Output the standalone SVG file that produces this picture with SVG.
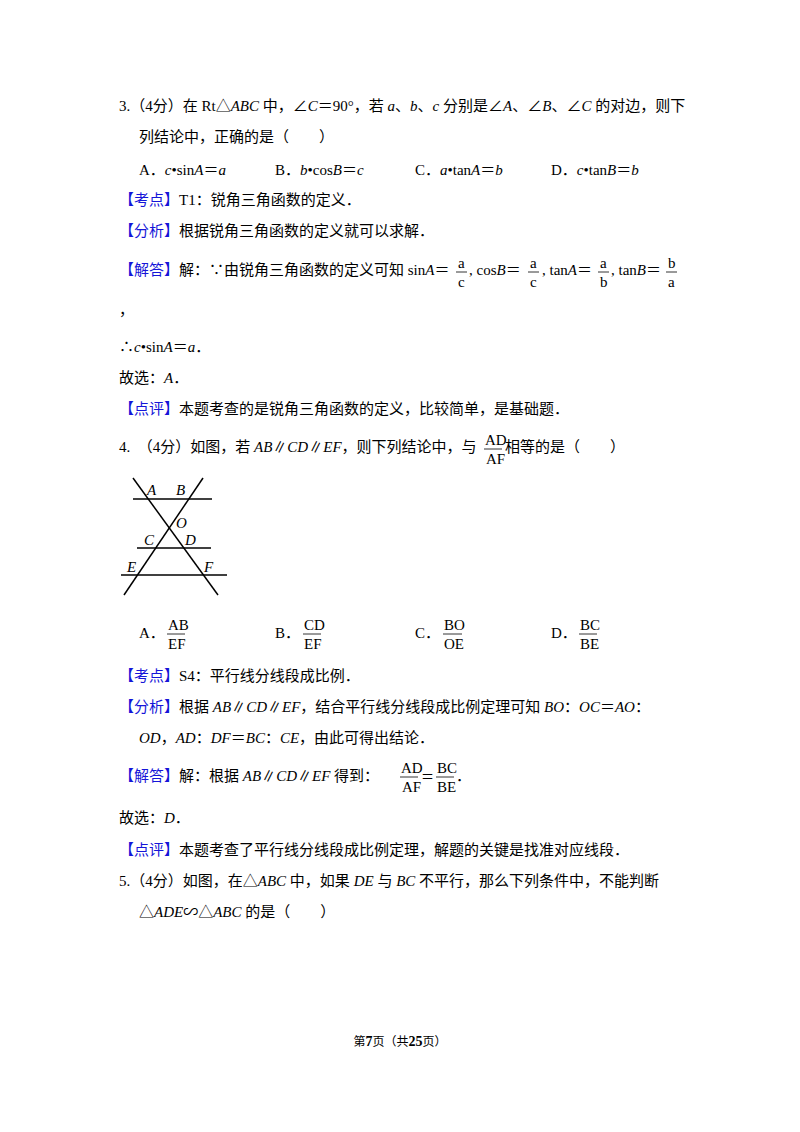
<svg xmlns="http://www.w3.org/2000/svg" width="800" height="1132" viewBox="0 0 800 1132">
<style>
text{font-family:"Liberation Serif","Noto Sans CJK SC",serif;font-size:15px;fill:#000}
.b{fill:#1515d8}
.f{font-size:12px}
.i{font-style:italic}
line{stroke:#000;stroke-width:1.5}
.fr{stroke:#000;stroke-width:0.8}
</style>
<rect width="800" height="1132" fill="#fff"/>
<text x="119" y="111">3.（4分）在 Rt△<tspan class="i">ABC</tspan> 中，∠<tspan class="i">C</tspan>＝90°，若 <tspan class="i">a</tspan>、<tspan class="i">b</tspan>、<tspan class="i">c</tspan> 分别是∠<tspan class="i">A</tspan>、∠<tspan class="i">B</tspan>、∠<tspan class="i">C</tspan> 的对边，则下</text>
<text x="139" y="142">列结论中，正确的是（　　）</text>
<text x="139" y="175">A．<tspan class="i">c</tspan>•sin<tspan class="i">A</tspan>＝<tspan class="i">a</tspan></text>
<text x="275" y="175">B．<tspan class="i">b</tspan>•cos<tspan class="i">B</tspan>＝<tspan class="i">c</tspan></text>
<text x="415" y="175">C．<tspan class="i">a</tspan>•tan<tspan class="i">A</tspan>＝<tspan class="i">b</tspan></text>
<text x="551" y="175">D．<tspan class="i">c</tspan>•tan<tspan class="i">B</tspan>＝<tspan class="i">b</tspan></text>
<text x="119" y="205"><tspan class="b">【考点】</tspan>T1：锐角三角函数的定义．</text>
<text x="119" y="236"><tspan class="b">【分析】</tspan>根据锐角三角函数的定义就可以求解．</text>
<text x="119" y="275"><tspan class="b">【解答】</tspan>解：∵由锐角三角函数的定义可知 sin<tspan class="i">A</tspan>＝</text>
<g class="f"><text x="458" y="268">a</text><text x="458" y="287">c</text></g><line class="fr" x1="456" y1="272" x2="467" y2="272"/>
<text x="469" y="275">, cos<tspan class="i">B</tspan>＝</text>
<g class="f"><text x="530" y="268">a</text><text x="530" y="287">c</text></g><line class="fr" x1="528" y1="272" x2="539" y2="272"/>
<text x="542" y="275">, tan<tspan class="i">A</tspan>＝</text>
<g class="f"><text x="600" y="268">a</text><text x="600" y="287">b</text></g><line class="fr" x1="598" y1="272" x2="609" y2="272"/>
<text x="611" y="275">, tan<tspan class="i">B</tspan>＝</text>
<g class="f"><text x="668" y="268">b</text><text x="668" y="287">a</text></g><line class="fr" x1="666" y1="272" x2="677" y2="272"/>
<text x="119" y="315">，</text>
<text x="119" y="352">∴<tspan class="i">c</tspan>•sin<tspan class="i">A</tspan>＝<tspan class="i">a</tspan>．</text>
<text x="119" y="383">故选：<tspan class="i">A</tspan>．</text>
<text x="119" y="414"><tspan class="b">【点评】</tspan>本题考查的是锐角三角函数的定义，比较简单，是基础题．</text>
<text x="119" y="452">4.　（4分）如图，若 <tspan class="i">AB</tspan>∥<tspan class="i">CD</tspan>∥<tspan class="i">EF</tspan>，则下列结论中，与</text>
<g class="f"><text x="485" y="445">AD</text><text x="486" y="464">AF</text></g><line class="fr" x1="484" y1="449" x2="502" y2="449"/>
<text x="505" y="452">相等的是（　　）</text>
<g id="figure">
<line x1="133" y1="499" x2="212" y2="499"/>
<line x1="137" y1="548" x2="211" y2="548"/>
<line x1="121" y1="575" x2="227" y2="575"/>
<line x1="133" y1="478" x2="218" y2="595"/>
<line x1="203" y1="478" x2="124" y2="595"/>
<g class="i"><text x="147" y="495">A</text><text x="176" y="495">B</text><text x="176" y="528">O</text><text x="144" y="545">C</text><text x="185" y="545">D</text><text x="127" y="572">E</text><text x="204" y="572">F</text></g>
</g>
<text x="139" y="638">A．</text>
<g class="f"><text x="168" y="630">AB</text><text x="168" y="649">EF</text></g><line class="fr" x1="167" y1="634" x2="185" y2="634"/>
<text x="275" y="638">B．</text>
<g class="f"><text x="304" y="630">CD</text><text x="304" y="649">EF</text></g><line class="fr" x1="303" y1="634" x2="321" y2="634"/>
<text x="415" y="638">C．</text>
<g class="f"><text x="444" y="630">BO</text><text x="444" y="649">OE</text></g><line class="fr" x1="443" y1="634" x2="462" y2="634"/>
<text x="551" y="638">D．</text>
<g class="f"><text x="580" y="630">BC</text><text x="580" y="649">BE</text></g><line class="fr" x1="579" y1="634" x2="597" y2="634"/>
<text x="119" y="681"><tspan class="b">【考点】</tspan>S4：平行线分线段成比例．</text>
<text x="119" y="712"><tspan class="b">【分析】</tspan>根据 <tspan class="i">AB</tspan>∥<tspan class="i">CD</tspan>∥<tspan class="i">EF</tspan>，结合平行线分线段成比例定理可知 <tspan class="i">BO</tspan>：<tspan class="i">OC</tspan>＝<tspan class="i">AO</tspan>：</text>
<text x="139" y="743"><tspan class="i">OD</tspan>，<tspan class="i">AD</tspan>：<tspan class="i">DF</tspan>＝<tspan class="i">BC</tspan>：<tspan class="i">CE</tspan>，由此可得出结论．</text>
<text x="119" y="781"><tspan class="b">【解答】</tspan>解：根据 <tspan class="i">AB</tspan>∥<tspan class="i">CD</tspan>∥<tspan class="i">EF</tspan> 得到：</text>
<g class="f"><text x="401" y="773">AD</text><text x="402" y="792">AF</text></g><line class="fr" x1="400" y1="777" x2="418" y2="777"/>
<text x="421" y="781" style="font-size:13px">＝</text>
<g class="f"><text x="437" y="773">BC</text><text x="437" y="792">BE</text></g><line class="fr" x1="436" y1="777" x2="454" y2="777"/>
<text x="456" y="781">．</text>
<text x="119" y="823">故选：<tspan class="i">D</tspan>．</text>
<text x="119" y="855"><tspan class="b">【点评】</tspan>本题考查了平行线分线段成比例定理，解题的关键是找准对应线段．</text>
<text x="119" y="886">5.（4分）如图，在△<tspan class="i">ABC</tspan> 中，如果 <tspan class="i">DE</tspan> 与 <tspan class="i">BC</tspan> 不平行，那么下列条件中，不能判断</text>
<text x="139" y="917">△<tspan class="i">ADE</tspan>∽△<tspan class="i">ABC</tspan> 的是（　　）</text>
<text x="400" y="1046" text-anchor="middle" style="font-size:12px">第<tspan font-weight="bold" style="font-size:14px">7</tspan>页（共<tspan font-weight="bold" style="font-size:14px">25</tspan>页）</text>
</svg>
